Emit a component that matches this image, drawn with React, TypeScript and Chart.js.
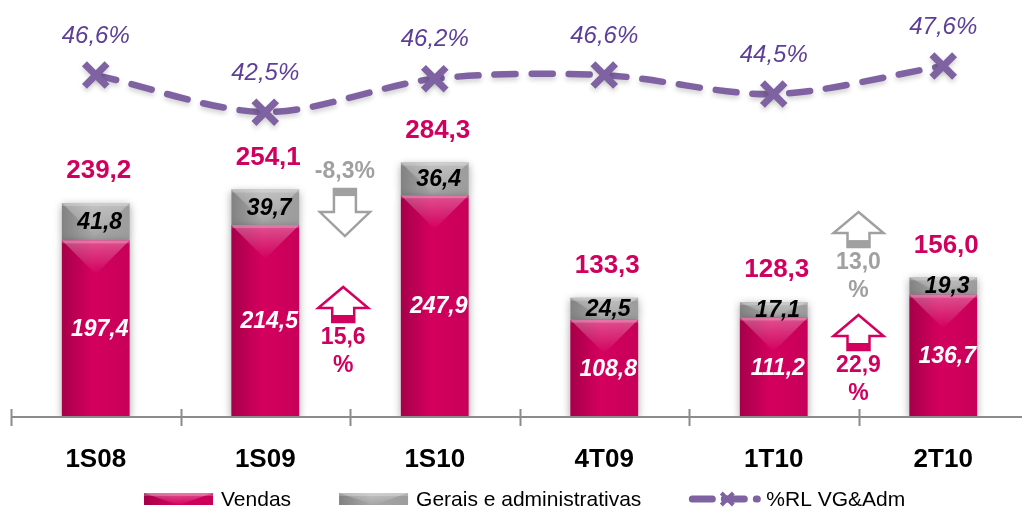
import React, { useEffect, useRef } from "react";
import { Chart, registerables } from "chart.js";

Chart.register(...registerables);

// ---------- data ----------
const categories = ["1S08", "1S09", "1S10", "4T09", "1T10", "2T10"];
const vendas = [197.4, 214.5, 247.9, 108.8, 111.2, 136.7];
const gerais = [41.8, 39.7, 36.4, 24.5, 17.1, 19.3];
const totais = [239.2, 254.1, 284.3, 133.3, 128.3, 156.0];
const percentRL = [46.6, 42.5, 46.2, 46.6, 44.5, 47.6];
const seriesLabels = ["Vendas", "Gerais e administrativas", "%RL VG&Adm"];

// change annotations (between categories)
const changeTexts = [["-8,3%"], ["15,6", "%"], ["13,0", "%"], ["22,9", "%"]];
const changeDirections = ["down", "up", "up", "up"];
const changeSeries = [1, 0, 1, 0]; // 0 = Vendas colour, 1 = Gerais colour
const changePositions = [1.47, 1.46, 4.5, 4.5]; // category-index position
const changeLevels = [254.7, 145.3, 229.0, 114.0]; // bar-scale value of arrow top

// ---------- style ----------
const PINK = "#D4005E";
const PINK_TEXT = "#D0005F";
const GRAY = "#A6A6A6";
const GRAY_TEXT = "#A0A0A0";
const PURPLE = "#7E62A1";
const PURPLE_TEXT = "#5E3F98";
const FONT = "'Liberation Sans', Arial, sans-serif";

const fmt = (v: number) => v.toFixed(1).replace(".", ",");

function bevel(ctx: CanvasRenderingContext2D, left: number, top: number, right: number, bottom: number) {
  const w = right - left;
  const h = bottom - top;
  if (w <= 0 || h <= 0) return;
  const cx = (left + right) / 2;
  ctx.save();
  ctx.beginPath();
  ctx.rect(left, top, w, h);
  ctx.clip();
  const g = ctx.createLinearGradient(left, 0, right, 0);
  g.addColorStop(0, "rgba(0,0,0,0.22)");
  g.addColorStop(0.45, "rgba(0,0,0,0)");
  g.addColorStop(1, "rgba(0,0,0,0.06)");
  ctx.fillStyle = g;
  ctx.fillRect(left, top, w, h);
  const d = Math.min(w / 2, h);
  const tg = ctx.createLinearGradient(0, top, 0, top + d);
  tg.addColorStop(0, "rgba(255,255,255,0.32)");
  tg.addColorStop(1, "rgba(255,255,255,0)");
  ctx.fillStyle = tg;
  ctx.beginPath();
  ctx.moveTo(left, top);
  ctx.lineTo(right, top);
  ctx.lineTo(cx, top + d);
  ctx.closePath();
  ctx.fill();
  ctx.fillStyle = "rgba(255,255,255,0.22)";
  ctx.fillRect(left, top, w, 3);
  ctx.restore();
}

function drawArrow(ctx: CanvasRenderingContext2D, cx: number, topY: number, dir: string, color: string) {
  const headHalf = 25;
  const bodyHalf = 11;
  ctx.save();
  ctx.lineWidth = 2.5;
  ctx.strokeStyle = color;
  ctx.fillStyle = "#fff";
  ctx.lineJoin = "miter";
  ctx.beginPath();
  if (dir === "up") {
    const tip = topY;
    const hb = tip + 21;
    const bottom = tip + 35;
    ctx.moveTo(cx, tip);
    ctx.lineTo(cx + headHalf, hb);
    ctx.lineTo(cx + bodyHalf, hb);
    ctx.lineTo(cx + bodyHalf, bottom);
    ctx.lineTo(cx - bodyHalf, bottom);
    ctx.lineTo(cx - bodyHalf, hb);
    ctx.lineTo(cx - headHalf, hb);
    ctx.closePath();
    ctx.fill();
    ctx.stroke();
    ctx.fillStyle = color;
    ctx.fillRect(cx - bodyHalf, bottom - 7, bodyHalf * 2, 7);
  } else {
    const tail = topY;
    const tip = tail + 47;
    const hb = tip - 24;
    ctx.moveTo(cx - bodyHalf, tail);
    ctx.lineTo(cx + bodyHalf, tail);
    ctx.lineTo(cx + bodyHalf, hb);
    ctx.lineTo(cx + headHalf, hb);
    ctx.lineTo(cx, tip);
    ctx.lineTo(cx - headHalf, hb);
    ctx.lineTo(cx - bodyHalf, hb);
    ctx.closePath();
    ctx.fill();
    ctx.stroke();
    ctx.fillStyle = color;
    ctx.fillRect(cx - bodyHalf, tail, bodyHalf * 2, 7);
  }
  ctx.restore();
}

const decorPlugin = {
  id: "decor",
  beforeDatasetDraw(chart: any, args: any) {
    const ds = chart.data.datasets[args.index];
    const ctx = chart.ctx;
    ctx.save();
    if (ds.type === "bar") {
      ctx.shadowColor = "rgba(0,0,0,0.35)";
      ctx.shadowBlur = 8;
      ctx.shadowOffsetX = 0;
      ctx.shadowOffsetY = 2;
    } else {
      ctx.shadowColor = "rgba(0,0,0,0.18)";
      ctx.shadowBlur = 5;
      ctx.shadowOffsetY = 3;
    }
  },
  afterDatasetDraw(chart: any, args: any) {
    const ctx = chart.ctx;
    ctx.restore();
    const ds = chart.data.datasets[args.index];
    if (ds.type !== "bar") return;
    const meta = chart.getDatasetMeta(args.index);
    meta.data.forEach((el: any) => {
      const p = el.getProps(["x", "y", "base", "width"], true);
      bevel(ctx, p.x - p.width / 2, Math.min(p.y, p.base), p.x + p.width / 2, Math.max(p.y, p.base));
    });
  },
  afterDatasetsDraw(chart: any) {
    const ctx = chart.ctx;
    const xs = chart.scales.x;
    const area = chart.chartArea;
    const step = xs.getPixelForValue(1) - xs.getPixelForValue(0);
    ctx.save();
    ctx.strokeStyle = "#8C8C8C";
    ctx.lineWidth = 2;
    ctx.beginPath();
    ctx.moveTo(area.left, area.bottom);
    ctx.lineTo(area.right, area.bottom);
    for (let i = 0; i <= categories.length; i++) {
      const x = Math.round(xs.getPixelForValue(i) - step / 2) + 0.5;
      ctx.moveTo(x, area.bottom - 8);
      ctx.lineTo(x, area.bottom + 9);
    }
    ctx.stroke();
    ctx.restore();
  },
  afterDraw(chart: any) {
    const ctx = chart.ctx;
    const xs = chart.scales.x;
    const ys = chart.scales.y;
    const y2 = chart.scales.y2;
    ctx.save();
    ctx.textAlign = "center";
    ctx.textBaseline = "middle";

    const mV = chart.getDatasetMeta(1);
    const mG = chart.getDatasetMeta(2);
    categories.forEach((_, i) => {
      const bv = mV.data[i].getProps(["x", "y", "base"], true);
      const bg = mG.data[i].getProps(["x", "y", "base"], true);
      ctx.font = `italic bold 23px ${FONT}`;
      ctx.fillStyle = "#FFFFFF";
      ctx.fillText(fmt(vendas[i]), bv.x + 4, (bv.y + bv.base) / 2 + 1);
      ctx.fillStyle = "#000000";
      ctx.fillText(fmt(gerais[i]), bg.x + 4, (bg.y + bg.base) / 2 + 1);
      ctx.font = `bold 26px ${FONT}`;
      ctx.fillStyle = PINK_TEXT;
      ctx.fillText(fmt(totais[i]), bg.x + 3, ys.getPixelForValue(totais[i]) - 32);
      ctx.font = `italic 24px ${FONT}`;
      ctx.fillStyle = PURPLE_TEXT;
      ctx.fillText(fmt(percentRL[i]) + "%", xs.getPixelForValue(i), y2.getPixelForValue(percentRL[i]) - 39);
    });

    changeTexts.forEach((lines, k) => {
      const cx = xs.getPixelForValue(changePositions[k]);
      const topY = ys.getPixelForValue(changeLevels[k]);
      const color = changeSeries[k] === 0 ? PINK : "#A0A0A0";
      const tcolor = changeSeries[k] === 0 ? PINK_TEXT : GRAY_TEXT;
      drawArrow(ctx, cx, topY, changeDirections[k], color);
      ctx.font = `bold 23px ${FONT}`;
      ctx.fillStyle = tcolor;
      if (changeDirections[k] === "down") {
        ctx.fillText(lines[0], cx, topY - 17);
      } else {
        lines.forEach((t, j) => ctx.fillText(t, cx, topY + 51 + j * 28));
      }
    });

    const ly = 499;
    let x = 144;
    ctx.textAlign = "left";
    ctx.font = `21px ${FONT}`;
    seriesLabels.forEach((label, k) => {
      if (k < 2) {
        ctx.fillStyle = k === 0 ? PINK : GRAY;
        ctx.fillRect(x, ly - 6, 69, 12);
        bevel(ctx, x, ly - 6, x + 69, ly + 6);
        x += 69 + 8;
      } else {
        ctx.save();
        ctx.strokeStyle = PURPLE;
        ctx.lineWidth = 7;
        ctx.lineCap = "round";
        ctx.setLineDash([20, 12]);
        ctx.beginPath();
        ctx.moveTo(x + 3, ly);
        ctx.lineTo(x + 68, ly);
        ctx.stroke();
        ctx.setLineDash([]);
        ctx.lineWidth = 4;
        ctx.lineCap = "butt";
        ctx.beginPath();
        const mx = x + 38;
        ctx.moveTo(mx - 6, ly - 6); ctx.lineTo(mx + 6, ly + 6);
        ctx.moveTo(mx + 6, ly - 6); ctx.lineTo(mx - 6, ly + 6);
        ctx.stroke();
        ctx.restore();
        x += 77;
      }
      ctx.fillStyle = "#000000";
      ctx.fillText(label, x, ly + 1);
      x += ctx.measureText(label).width + 48;
    });
    ctx.restore();
  },
};

export default function App() {
  const ref = useRef<HTMLCanvasElement | null>(null);
  useEffect(() => {
    if (!ref.current) return;
    const chart = new Chart(ref.current, {
      type: "bar",
      data: {
        labels: categories,
        datasets: [
          {
            type: "line",
            label: seriesLabels[2],
            data: percentRL,
            yAxisID: "y2",
            borderColor: PURPLE,
            borderWidth: 6.5,
            borderDash: [21, 16],
            borderCapStyle: "round",
            tension: 0.3,
            pointStyle: "crossRot",
            pointRadius: 16,
            pointBorderWidth: 7,
            pointBorderColor: PURPLE,
            pointBackgroundColor: PURPLE,
            clip: false,
            order: 0,
          } as any,
          {
            type: "bar",
            label: seriesLabels[0],
            data: vendas,
            backgroundColor: PINK,
            stack: "s",
            yAxisID: "y",
            barPercentage: 0.4,
            categoryPercentage: 1,
            order: 2,
          },
          {
            type: "bar",
            label: seriesLabels[1],
            data: gerais,
            backgroundColor: GRAY,
            stack: "s",
            yAxisID: "y",
            barPercentage: 0.4,
            categoryPercentage: 1,
            order: 2,
          },
        ],
      },
      options: {
        responsive: false,
        animation: false,
        devicePixelRatio: 1,
        layout: { autoPadding: false, padding: { left: 11, right: 0, top: 0, bottom: 0 } },
        plugins: { legend: { display: false }, tooltip: { enabled: false } },
        scales: {
          x: {
            stacked: true,
            grid: { display: false, drawTicks: false },
            border: { display: false },
            ticks: {
              color: "#000",
              font: { family: FONT, size: 26, weight: "bold" },
              padding: 27,
              maxRotation: 0,
            },
            afterFit: (s: any) => {
              s.height = 91;
              s.paddingLeft = 0;
              s.paddingRight = 0;
            },
          },
          y: { stacked: true, display: false, min: 0, max: 466 },
          y2: { display: false, min: 8.8, max: 54.9, position: "right" },
        },
      } as any,
      plugins: [decorPlugin],
    });
    return () => chart.destroy();
  }, []);
  return (
    <div style={{ position: "fixed", left: 0, top: 0, width: 1022, height: 508, overflow: "hidden", background: "#fff" }}>
      <canvas ref={ref} width={1028} height={508} style={{ display: "block" }} />
    </div>
  );
}
